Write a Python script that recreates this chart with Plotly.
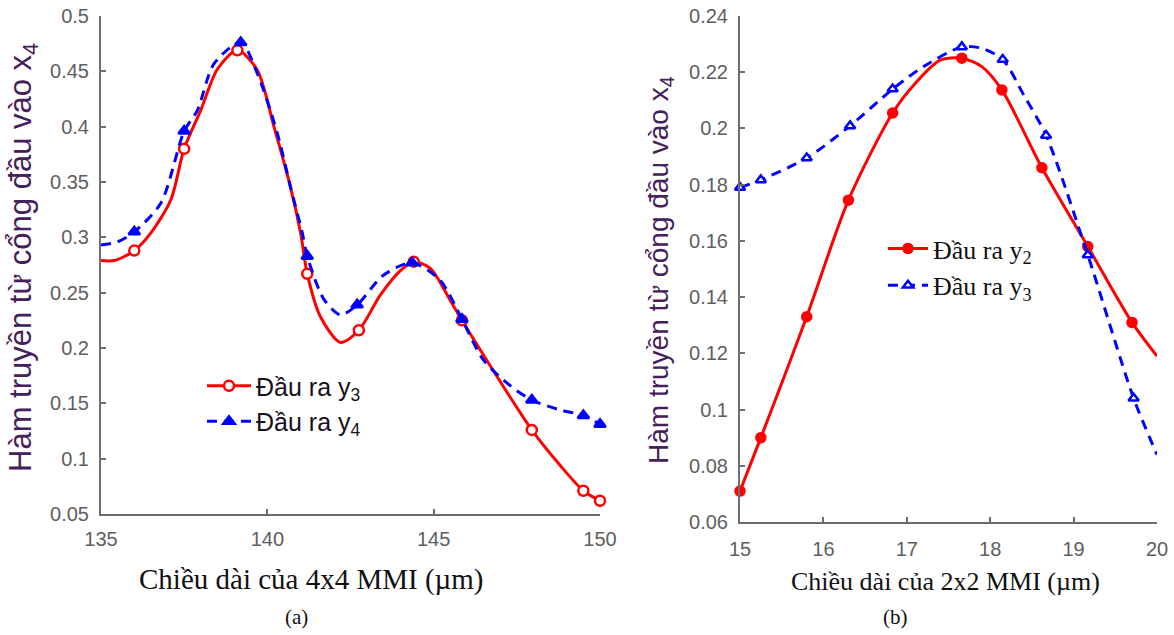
import plotly.graph_objects as go

# ---------------- data ----------------
# (a) 4x4 MMI
a_y3_x = [135.0, 135.4, 136.0, 136.5, 137.1, 137.5, 138.0, 138.5, 139.1, 139.7, 140.2, 140.7,
          141.0, 141.2, 141.6, 142.2, 142.75, 143.4, 144.0, 144.4, 144.9, 145.5, 145.85, 146.7,
          147.95, 148.8, 149.5, 150.0]
a_y3_y = [0.279, 0.279, 0.288, 0.304, 0.334, 0.380, 0.415, 0.452, 0.469, 0.451, 0.400, 0.345,
          0.304, 0.267, 0.228, 0.205, 0.216, 0.248, 0.270, 0.278, 0.272, 0.243, 0.225, 0.184,
          0.126, 0.094, 0.071, 0.062]
a_y3_mx = [136.0, 137.5, 139.1, 141.2, 142.75, 144.4, 145.85, 147.95, 149.5, 150.0]
a_y3_my = [0.288, 0.380, 0.469, 0.267, 0.216, 0.278, 0.225, 0.126, 0.071, 0.062]

a_y4_x = [135.0, 135.5, 136.0, 136.8, 137.5, 137.9, 138.4, 139.2, 139.7, 140.3, 140.7, 141.05,
          141.2, 141.7, 142.2, 142.7, 143.5, 144.35, 145.2, 145.85, 146.5, 147.3, 147.95, 148.8,
          149.5, 150.0]
a_y4_y = [0.293, 0.296, 0.305, 0.331, 0.396, 0.415, 0.457, 0.476, 0.448, 0.394, 0.345, 0.304,
          0.283, 0.244, 0.230, 0.239, 0.266, 0.277, 0.261, 0.226, 0.189, 0.166, 0.153, 0.144,
          0.139, 0.131]
a_y4_mx = [136.0, 137.5, 139.2, 141.2, 142.7, 144.35, 145.85, 147.95, 149.5, 150.0]
a_y4_my = [0.305, 0.396, 0.476, 0.283, 0.239, 0.277, 0.226, 0.153, 0.139, 0.131]

# (b) 2x2 MMI
b_y2_x = [15.0, 15.25, 15.8, 16.3, 16.83, 17.1, 17.4, 17.66, 17.9, 18.14, 18.62, 19.17, 19.7, 20.0]
b_y2_y = [0.071, 0.090, 0.133, 0.1745, 0.2055, 0.216, 0.2243, 0.225, 0.222, 0.2137, 0.186, 0.158,
          0.131, 0.119]
b_y2_mx = [15.0, 15.25, 15.8, 16.3, 16.83, 17.66, 18.14, 18.62, 19.17, 19.7]
b_y2_my = [0.071, 0.090, 0.133, 0.1745, 0.2055, 0.225, 0.2137, 0.186, 0.158, 0.131]

b_y3_x = [15.0, 15.25, 15.8, 16.32, 16.83, 17.2, 17.66, 17.9, 18.15, 18.4, 18.67, 19.17, 19.72, 20.0]
b_y3_y = [0.179, 0.1817, 0.1895, 0.2009, 0.214, 0.222, 0.229, 0.2285, 0.2245, 0.212, 0.1975,
          0.155, 0.104, 0.084]
b_y3_mx = [15.0, 15.25, 15.8, 16.32, 16.83, 17.66, 18.15, 18.67, 19.17, 19.72]
b_y3_my = [0.179, 0.1817, 0.1895, 0.2009, 0.214, 0.229, 0.2245, 0.1975, 0.155, 0.104]

a_xticks = [135, 140, 145, 150]
a_yticks = [0.05, 0.1, 0.15, 0.2, 0.25, 0.3, 0.35, 0.4, 0.45, 0.5]
a_yticklabels = ["0.05", "0.1", "0.15", "0.2", "0.25", "0.3", "0.35", "0.4", "0.45", "0.5"]
b_xticks = [15, 16, 17, 18, 19, 20]
b_yticks = [0.06, 0.08, 0.1, 0.12, 0.14, 0.16, 0.18, 0.2, 0.22, 0.24]
b_yticklabels = ["0.06", "0.08", "0.1", "0.12", "0.14", "0.16", "0.18", "0.2", "0.22", "0.24"]

names_a = ["Đầu ra y<sub>3</sub>", "Đầu ra y<sub>4</sub>"]
names_b = ["Đầu ra y<sub>2</sub>", "Đầu ra y<sub>3</sub>"]

# ---------------- styling ----------------
W, H = 1174, 635
RED, BLUE = "#ff0000", "#0000ff"
DASH = "10px,7px"
AXC = "#6e6e6e"
TICKC = "#5e5e5e"
SANS = "Liberation Sans, Arial, sans-serif"
SERIF = "Liberation Serif, Times New Roman, serif"


def px_x(p):
    return p / W


def px_y(p):
    return 1 - p / H


fig = go.Figure()


def add_series(x, y, mx, my, name, color, dash, symbol, msize, mfill, xa, ya, leg):
    fig.add_trace(go.Scatter(x=x, y=y, mode="lines", xaxis=xa, yaxis=ya,
                             line=dict(color=color, width=3, dash=dash, shape="spline", smoothing=0.8),
                             showlegend=False, hoverinfo="skip"))
    fig.add_trace(go.Scatter(x=mx, y=my, mode="markers", xaxis=xa, yaxis=ya, cliponaxis=False,
                             marker=dict(symbol=symbol, size=msize, color=mfill,
                                         line=dict(color=color, width=2.5)),
                             showlegend=False))
    # legend entry
    fig.add_trace(go.Scatter(x=[None], y=[None], mode="lines+markers", xaxis=xa, yaxis=ya,
                             name=name, legend=leg,
                             line=dict(color=color, width=3, dash=dash),
                             marker=dict(symbol=symbol, size=msize, color=mfill,
                                         line=dict(color=color, width=2.5))))


add_series(a_y3_x, a_y3_y, a_y3_mx, a_y3_my, names_a[0], RED, "solid", "circle", 10, "white", "x", "y", "legend")
add_series(a_y4_x, a_y4_y, a_y4_mx, a_y4_my, names_a[1], BLUE, DASH, "triangle-up", 10, BLUE, "x", "y", "legend")
add_series(b_y2_x, b_y2_y, b_y2_mx, b_y2_my, names_b[0], RED, "solid", "circle", 9, RED, "x2", "y2", "legend2")
add_series(b_y3_x, b_y3_y, b_y3_mx, b_y3_my, names_b[1], BLUE, DASH, "triangle-up", 9, "white", "x2", "y2", "legend2")


def axis_common(**kw):
    d = dict(showline=True, linecolor=AXC, linewidth=2, ticks="inside", ticklen=5,
             tickcolor=AXC, tickwidth=1.5, showgrid=False, zeroline=False, mirror=False,
             automargin=False, ticklabeloverflow="allow",
             tickfont=dict(family=SANS, size=20, color=TICKC), fixedrange=True)
    d.update(kw)
    return d


fig.update_layout(
    width=W, height=H,
    margin=dict(l=0, r=0, t=0, b=0, autoexpand=False),
    paper_bgcolor="white", plot_bgcolor="white",
    xaxis=axis_common(domain=[px_x(101), px_x(600)], range=[135, 150], tickvals=a_xticks,
                      anchor="y", ticklabelstandoff=6),
    yaxis=axis_common(domain=[px_y(514), px_y(16)], range=[0.05, 0.5], tickvals=a_yticks,
                      ticktext=a_yticklabels, anchor="x", ticklabelstandoff=6),
    xaxis2=axis_common(domain=[px_x(740), px_x(1157)], range=[15, 20], tickvals=b_xticks,
                       anchor="y2", ticklabelstandoff=8),
    yaxis2=axis_common(domain=[px_y(522), px_y(16)], range=[0.06, 0.24], tickvals=b_yticks,
                       ticktext=b_yticklabels, anchor="x2", ticklabelstandoff=6),
    legend=dict(x=px_x(202), y=px_y(363), xanchor="left", yanchor="top",
                bgcolor="rgba(0,0,0,0)", font=dict(family=SANS, size=25, color="#1a1020"),
                tracegroupgap=0, itemwidth=44),
    legend2=dict(x=px_x(883), y=px_y(225), xanchor="left", yanchor="top",
                 bgcolor="rgba(0,0,0,0)", font=dict(family=SERIF, size=26, color="#111111"),
                 tracegroupgap=0, itemwidth=40),
)

YT = "Hàm truyền từ cổng đầu vào x<sub>4</sub>"
ann = [
    dict(text=YT, x=px_x(23), y=px_y(258), textangle=-90, font=dict(family=SANS, size=31, color="#45205a")),
    dict(text=YT, x=px_x(660), y=px_y(270), textangle=-90, font=dict(family=SANS, size=28, color="#45205a")),
    dict(text="Chiều dài của 4x4 MMI (µm)", x=px_x(311), y=px_y(579),
         font=dict(family=SERIF, size=29, color="#111111")),
    dict(text="Chiều dài của 2x2 MMI (µm)", x=px_x(945), y=px_y(581),
         font=dict(family=SERIF, size=26, color="#111111")),
    dict(text="(a)", x=px_x(297), y=px_y(617), font=dict(family=SERIF, size=21, color="#111111")),
    dict(text="(b)", x=px_x(895), y=px_y(617), font=dict(family=SERIF, size=21, color="#111111")),
]
for a in ann:
    a.update(xref="paper", yref="paper", showarrow=False, xanchor="center", yanchor="middle")
fig.update_layout(annotations=ann)

fig.write_html("out.html", config={"displayModeBar": False},
               post_script="document.body.style.margin='0';")
